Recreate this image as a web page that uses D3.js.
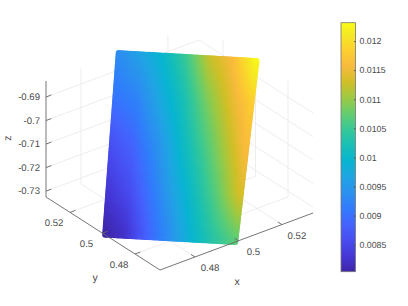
<!DOCTYPE html>
<html>
<head>
<meta charset="utf-8">
<script src="https://cdn.jsdelivr.net/npm/d3@7"></script>
<style>
body { margin: 0; background: #fff; }
text { font-family: "Liberation Sans", Arial, sans-serif; font-size: 9.6px; fill: #4a4a4a; text-rendering: geometricPrecision; }
</style>
</head>
<body>
<div id="chart"></div>
<script>
// axis limits and ticks
const xLim = [0.4639, 0.5343];
const yLim = [0.4646, 0.5348];
const zLim = [-0.7325, -0.6832];
const cLim = [0.008034, 0.012316];

const xTicks = [0.48, 0.5, 0.52];
const yTicks = [0.48, 0.5, 0.52];
const zTicks = [-0.73, -0.72, -0.71, -0.7, -0.69];
const cTicks = [0.0085, 0.009, 0.0095, 0.01, 0.0105, 0.011, 0.0115, 0.012];

// corners of the tilted sheet: top left, top right, bottom left, bottom right
const cornerX = [0.4975, 0.534, 0.464, 0.4985];
const cornerY = [0.535, 0.499, 0.4985, 0.4646];
const cornerZ = [-0.683, -0.683, -0.7325, -0.7325];

// colour values read across the sheet, top row first
const sheetValues = [
    [0.00935, 0.00966, 0.00999, 0.01052, 0.01125, 0.01159, 0.01230],
    [0.00906, 0.00923, 0.00971, 0.01017, 0.01080, 0.01133, 0.01180],
    [0.00863, 0.00889, 0.00936, 0.00992, 0.01047, 0.01103, 0.01159],
    [0.00833, 0.00859, 0.00910, 0.00966, 0.01017, 0.01073, 0.01133],
    [0.00803, 0.00825, 0.00885, 0.00936, 0.00992, 0.01035, 0.01069]
];

const parula = ["#3e26a8", "#4537d5", "#484df0", "#4563fd", "#327bfc", "#2b91ef", "#20a5e3",
    "#08b5d0", "#19bfb6", "#37c897", "#64cd6f", "#9dc943", "#d1bf27", "#f8ba3d", "#fccf30",
    "#f5e924", "#f9fb15"];

const width = 408, height = 306;

const svg = d3.select("#chart").append("svg")
    .attr("width", width)
    .attr("height", height);

// floor corners in pixels: front (160,270), right (313,213), left (46,197)
const xPos = d3.scaleLinear().domain(xLim).range([0, 1]);
const yPos = d3.scaleLinear().domain(yLim).range([0, 1]);
const zPos = d3.scaleLinear().domain(zLim).range([0, 116]);

function project(x, y, z) {
    let a = xPos(x), b = yPos(y);
    return [160 + 153 * a - 114 * b, 270 - 57 * a - 73 * b - zPos(z)];
}

function line3d(g, p, q) {
    let s = project(p[0], p[1], p[2]), e = project(q[0], q[1], q[2]);
    g.append("line")
        .attr("x1", s[0]).attr("y1", s[1])
        .attr("x2", e[0]).attr("y2", e[1]);
}

// grid on floor and back walls
const grid = svg.append("g")
    .attr("stroke", "#e9e9e9")
    .attr("stroke-width", 0.8);

xTicks.forEach(t => {
    line3d(grid, [t, yLim[0], zLim[0]], [t, yLim[1], zLim[0]]);
    line3d(grid, [t, yLim[1], zLim[0]], [t, yLim[1], zLim[1]]);
});
yTicks.forEach(t => {
    line3d(grid, [xLim[0], t, zLim[0]], [xLim[1], t, zLim[0]]);
    line3d(grid, [xLim[1], t, zLim[0]], [xLim[1], t, zLim[1]]);
});
zTicks.forEach(t => {
    line3d(grid, [xLim[0], yLim[1], t], [xLim[1], yLim[1], t]);
    line3d(grid, [xLim[1], yLim[1], t], [xLim[1], yLim[0], t]);
});

// colour scale, stops sit every 4 steps of the 64 step map
const colorScale = d3.scaleLinear()
    .domain(parula.map((c, i) => cLim[0] + (cLim[1] - cLim[0]) * Math.min(i * 4 / 63, 1)))
    .range(parula)
    .clamp(true);

// sheet is a dense cloud of dots, colours shaded between the read values
const uSteps = d3.range(0, 1.0001, 1 / 72);
const vSteps = d3.range(0, 1.0001, 1 / 96);

function sheetValue(u, v) {
    let cu = u * (sheetValues[0].length - 1), cv = v * (sheetValues.length - 1);
    let i = Math.min(Math.floor(cu), sheetValues[0].length - 2);
    let j = Math.min(Math.floor(cv), sheetValues.length - 2);
    let top = d3.interpolateNumber(sheetValues[j][i], sheetValues[j][i + 1])(cu - i);
    let bot = d3.interpolateNumber(sheetValues[j + 1][i], sheetValues[j + 1][i + 1])(cu - i);
    return d3.interpolateNumber(top, bot)(cv - j);
}

function corner(arr, u, v) {
    return (1 - v) * ((1 - u) * arr[0] + u * arr[1]) + v * ((1 - u) * arr[2] + u * arr[3]);
}

const dots = [];
vSteps.forEach(v => uSteps.forEach(u => {
    let p = project(corner(cornerX, u, v), corner(cornerY, u, v), corner(cornerZ, u, v));
    dots.push({ px: p[0], py: p[1], val: sheetValue(u, v) });
}));

svg.append("g").selectAll("circle")
    .data(dots)
    .enter()
    .append("circle")
    .attr("cx", d => d.px)
    .attr("cy", d => d.py)
    .attr("r", 3)
    .attr("fill", d => colorScale(d.val));

// axis lines
const axes = svg.append("g")
    .attr("stroke", "#666")
    .attr("stroke-width", 0.9);

line3d(axes, [xLim[0], yLim[1], zLim[0]], [xLim[0], yLim[1], zLim[1]]);
line3d(axes, [xLim[0], yLim[1], zLim[0]], [xLim[0], yLim[0], zLim[0]]);
line3d(axes, [xLim[0], yLim[0], zLim[0]], [xLim[1], yLim[0], zLim[0]]);

const tickX = 0.035, tickY = 0.035;
xTicks.forEach(t => line3d(axes, [t, yLim[0], zLim[0]], [t, yLim[0] + (yLim[1] - yLim[0]) * tickY, zLim[0]]));
yTicks.forEach(t => line3d(axes, [xLim[0], t, zLim[0]], [xLim[0] + (xLim[1] - xLim[0]) * tickX, t, zLim[0]]));
zTicks.forEach(t => line3d(axes, [xLim[0], yLim[1], t], [xLim[0] + (xLim[1] - xLim[0]) * tickX, yLim[1], t]));

// tick labels
const fmt = d => String(d);

svg.append("g").selectAll("text")
    .data(xTicks)
    .enter()
    .append("text")
    .attr("text-anchor", "middle")
    .attr("x", d => project(d, yLim[0], zLim[0])[0] + 15)
    .attr("y", d => project(d, yLim[0], zLim[0])[1] + 14)
    .text(fmt);

svg.append("g").selectAll("text")
    .data(yTicks)
    .enter()
    .append("text")
    .attr("text-anchor", "middle")
    .attr("x", d => project(xLim[0], d, zLim[0])[0] - 16)
    .attr("y", d => project(xLim[0], d, zLim[0])[1] + 14)
    .text(fmt);

svg.append("g").selectAll("text")
    .data(zTicks)
    .enter()
    .append("text")
    .attr("text-anchor", "end")
    .attr("x", 40)
    .attr("y", d => project(xLim[0], yLim[1], d)[1] + 3)
    .text(fmt);

svg.append("text").attr("x", 237).attr("y", 285).attr("text-anchor", "middle").style("font-size", "10.5px").text("x");
svg.append("text").attr("x", 95).attr("y", 281).attr("text-anchor", "middle").style("font-size", "10.5px").text("y");
svg.append("text")
    .attr("text-anchor", "middle")
    .style("font-size", "10.5px")
    .attr("transform", "translate(11,138) rotate(-90)")
    .text("z");

// colorbar
const barX = 341, barW = 14.5;
const barScale = d3.scaleLinear().domain(cLim).range([271.7, 22.7]);

const defs = svg.append("defs");
const grad = defs.append("linearGradient")
    .attr("id", "bar-grad")
    .attr("x1", 0).attr("y1", 1)
    .attr("x2", 0).attr("y2", 0);
parula.forEach((c, i) => {
    grad.append("stop")
        .attr("offset", Math.min(i * 4 / 63, 1))
        .attr("stop-color", c);
});

svg.append("rect")
    .attr("x", barX)
    .attr("y", barScale(cLim[1]))
    .attr("width", barW)
    .attr("height", barScale(cLim[0]) - barScale(cLim[1]))
    .attr("fill", "url(#bar-grad)")
    .attr("stroke", "#777")
    .attr("stroke-width", 0.8);

const barAxis = d3.axisRight(barScale)
    .tickValues(cTicks)
    .tickSize(0)
    .tickPadding(4)
    .tickFormat(fmt);

const barG = svg.append("g")
    .attr("transform", "translate(" + (barX + barW) + ",0)")
    .call(barAxis);
barG.select(".domain").remove();
barG.selectAll("text").style("font-size", "8.8px").attr("fill", null);
barG.selectAll(".tick").append("line")
    .attr("x1", -1.5)
    .attr("x2", 0)
    .attr("stroke", "#555");
</script>
</body>
</html>
